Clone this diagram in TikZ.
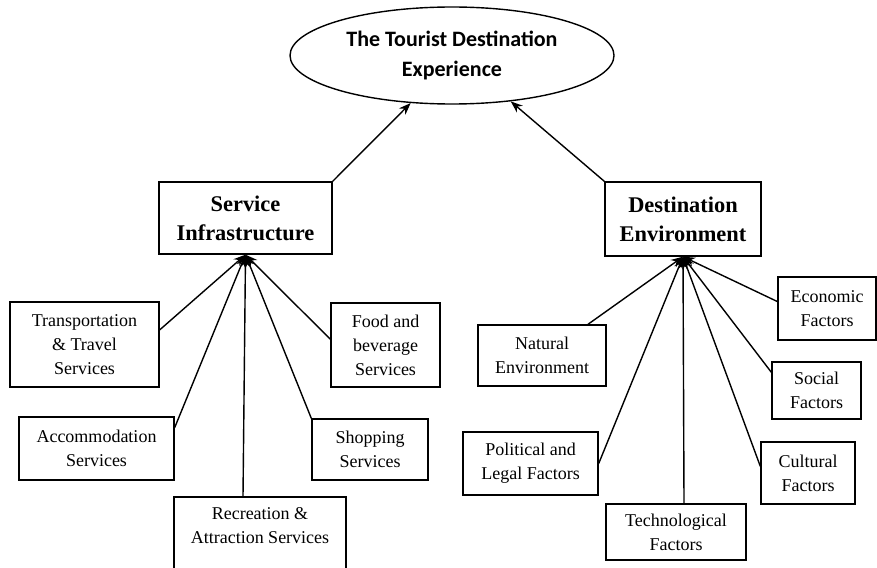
\documentclass[tikz,border=0pt]{standalone}
\usepackage{fontspec}
\setmainfont{Liberation Serif}
\newfontfamily\carlitofont{Carlito}
\usetikzlibrary{shapes.geometric,arrows.meta}
\begin{document}
\begin{tikzpicture}[x=0.5pt,y=-0.5pt,line width=0.7pt,
  leaf/.style={draw,rectangle,inner sep=0pt,align=center,font=\fontsize{9}{12}\selectfont},
  hub/.style={draw,rectangle,inner sep=0pt,align=center,font=\fontsize{11.2}{14.5}\selectfont\bfseries},
  conn/.style={-{Stealth[length=6pt,width=4.5pt]}}]
\useasboundingbox (0,0) rectangle (877,567);
\node[ellipse,draw,minimum width=162pt,minimum height=48.5pt,inner sep=0pt,align=center,
  font={\carlitofont\fontsize{11}{15}\selectfont\bfseries}] (exp) at (452,55.5)
  {The Tourist Destination\\Experience};
\node[hub,minimum width=86.5pt,minimum height=36pt] (si) at (245.5,218) {Service\\Infrastructure};
\node[hub,minimum width=78pt,minimum height=37pt] (de) at (683,219) {Destination\\Environment};
% left leaves
\node[leaf,minimum width=74.5pt,minimum height=42.5pt] (trans) at (84.5,344.5) {Transportation\\\& Travel\\Services};
\node[leaf,minimum width=77.5pt,minimum height=31.5pt] (accom) at (96.5,448.5) {Accommodation\\Services};
\node[leaf,minimum width=86pt,minimum height=41pt] (rec) at (260,538) {Recreation \&\\Attraction Services\\\mbox{}};
\node[leaf,minimum width=54.5pt,minimum height=42pt] (food) at (385.5,345) {Food and\\beverage\\Services};
\node[leaf,minimum width=58pt,minimum height=30.5pt] (shop) at (370,449.5) {Shopping\\Services};
% right leaves
\node[leaf,minimum width=64pt,minimum height=30.5pt] (nat) at (542,355.5) {Natural\\Environment};
\node[leaf,minimum width=67.5pt,minimum height=31.5pt] (pol) at (530.5,463.5) {Political and\\Legal Factors};
\node[leaf,minimum width=70pt,minimum height=28pt] (tech) at (676,532) {Technological\\Factors};
\node[leaf,minimum width=49pt,minimum height=31.5pt] (econ) at (827,308.5) {Economic\\Factors};
\node[leaf,minimum width=44.5pt,minimum height=28.5pt] (soc) at (816.5,390.5) {Social\\Factors};
\node[leaf,minimum width=47pt,minimum height=31pt] (cult) at (808,473) {Cultural\\Factors};
% connectors
\draw[conn] (trans.11.75) -- (si.south);
\draw[conn] (accom.15.5) -- (si.south);
\draw[conn] ([xshift=-8.5pt]rec.north) -- (si.south);
\draw[conn] (food.174.8) -- (si.south);
\draw[conn] (shop.north west) -- (si.south);
\draw[conn] ([xshift=23pt]nat.north) -- (de.south);
\draw[conn] (pol.east) -- (de.south);
\draw[conn] ([xshift=4pt]tech.north) -- (de.south);
\draw[conn] (econ.172.5) -- (de.south);
\draw[conn] (soc.158.5) -- (de.south);
\draw[conn] (cult.172.7) -- (de.south);
\draw[conn] (si.north east) -- (exp.229);
\draw[conn] (de.north west) -- (exp.322.8);
\end{tikzpicture}
\end{document}
